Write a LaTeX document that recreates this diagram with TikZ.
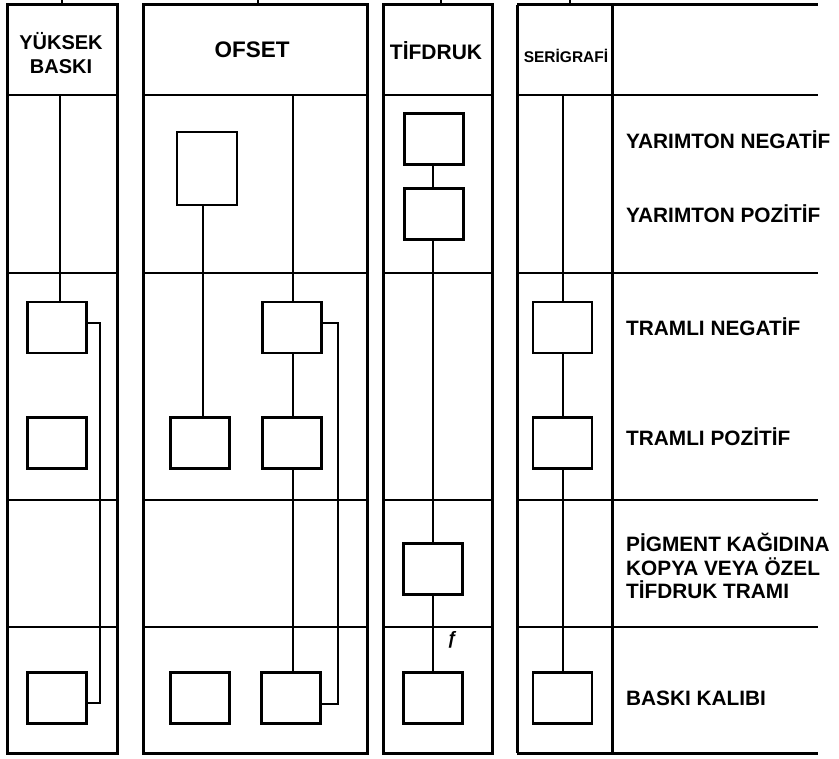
\documentclass[tikz,border=0pt]{standalone}
\usepackage{fontspec}
\setmainfont{Liberation Sans}
\begin{document}
\begin{tikzpicture}[x=1pt,y=-1pt,
  frame/.style={line width=3pt},
  rowline/.style={line width=2.4pt},
  bx/.style={draw,line width=2.3pt,minimum width=59pt,minimum height=51pt,inner sep=0pt},
  conn/.style={line width=2pt},
  hdr/.style={font=\fontsize{20}{24.5}\selectfont\bfseries,align=center,inner sep=0pt},
  lbl/.style={font=\fontsize{20.8}{23.5}\selectfont\bfseries,align=left,anchor=west,inner sep=0pt},
  tick/.style={line width=1.6pt}]
\useasboundingbox (0,0) rectangle (839,759);
% column frames
\draw[frame] (7,5) rectangle (117,753);
\draw[frame] (143,5) rectangle (367,753);
\draw[frame] (383,5) rectangle (492,753);
\draw[frame] (517,5) -- (517,753);
\draw[frame] (612,5) -- (612,753);
\draw[frame] (517,5) -- (818,5);
\draw[frame] (517,753) -- (818,753);
% row lines
\foreach \yy in {95,273,500,627}{
  \draw[rowline] (7,\yy) -- (117,\yy);
  \draw[rowline] (143,\yy) -- (367,\yy);
  \draw[rowline] (383,\yy) -- (492,\yy);
  \draw[rowline] (517,\yy) -- (818,\yy);
}
% top ticks
\foreach \xx in {62,258,441,570}{\draw[tick] (\xx,0) -- (\xx,5);}
% headers
\node[hdr] (h1) at (61,53) {YÜKSEK\\BASKI};
\node[hdr,font=\fontsize{22.5}{24}\selectfont\bfseries] (h2) at (252,50) {OFSET};
\node[hdr,font=\fontsize{21}{24}\selectfont\bfseries] (h3) at (436,51) {TİFDRUK};
\node[hdr,font=\fontsize{15.5}{17}\selectfont\bfseries] (h4) at (566,56) {SERİGRAFİ};
% column 1
\node[bx] (a1) at (57,327.5) {};
\node[bx] (a2) at (57,443) {};
\node[bx] (a3) at (57,698) {};
\coordinate (ta) at (60,95);
\draw[conn] (ta) -- (ta |- a1.north);
\coordinate (ba1) at (100,323);
\coordinate (ba2) at (100,703);
\draw[conn] (a1.east |- ba1) -- (ba1) -- (ba2) -- (a3.east |- ba2);
% column 2 left
\node[bx,minimum width=60pt,minimum height=73pt] (o1) at (207,168.5) {};
\node[bx] (o2) at (200,443) {};
\node[bx] (o3) at (200,698) {};
\coordinate (tol) at (203,205);
\draw[conn] (o1.south -| tol) -- (o2.north -| tol);
% column 2 right
\node[bx] (r1) at (292,327.5) {};
\node[bx] (r2) at (292,443) {};
\node[bx] (r3) at (291,698) {};
\coordinate (tor) at (293,95);
\draw[conn] (tor) -- (r1.north -| tor);
\draw[conn] (r1.south -| tor) -- (r2.north -| tor);
\draw[conn] (r2.south -| tor) -- (r3.north -| tor);
\coordinate (br1) at (338,323);
\coordinate (br2) at (338,704);
\draw[conn] (r1.east |- br1) -- (br1) -- (br2) -- (r3.east |- br2);
% column 3
\node[bx] (t1) at (434,139) {};
\node[bx] (t2) at (434,214) {};
\node[bx] (t3) at (433,569) {};
\node[bx] (t4) at (433,698) {};
\coordinate (tt) at (433,165);
\draw[conn] (t1.south -| tt) -- (t2.north -| tt);
\draw[conn] (t2.south -| tt) -- (t3.north -| tt);
\draw[conn] (t3.south -| tt) -- (t4.north -| tt);
\node[font=\fontsize{18}{18}\selectfont\itshape\bfseries,inner sep=0pt] (fm) at (452,640) {ƒ};
% column 4
\node[bx] (s1) at (562.5,327.5) {};
\node[bx] (s2) at (562.5,443) {};
\node[bx] (s3) at (562.5,698) {};
\coordinate (ts) at (563,95);
\draw[conn] (ts) -- (s1.north -| ts);
\draw[conn] (s1.south -| ts) -- (s2.north -| ts);
\draw[conn] (s2.south -| ts) -- (s3.north -| ts);
% labels
\node[lbl] (l1) at (626,140) {YARIMTON NEGATİF};
\node[lbl] (l2) at (626,214) {YARIMTON POZİTİF};
\node[lbl] (l3) at (626,327) {TRAMLI NEGATİF};
\node[lbl] (l4) at (626,437) {TRAMLI POZİTİF};
\node[lbl] (l5) at (626,566) {PİGMENT KAĞIDINA\\KOPYA VEYA ÖZEL\\TİFDRUK TRAMI};
\node[lbl] (l6) at (626,698) {BASKI KALIBI};
\end{tikzpicture}
\end{document}
